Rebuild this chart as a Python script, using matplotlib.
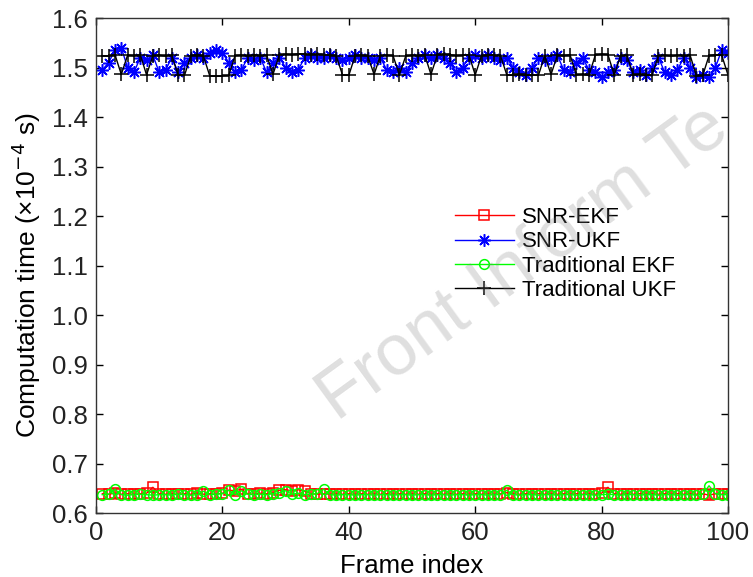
import matplotlib
matplotlib.use("Agg")
import matplotlib.pyplot as plt
import numpy as np

plt.rcParams["font.family"] = ["Liberation Sans", "DejaVu Sans"]

# per-frame computation time, units of 1e-4 s
frames = np.arange(1, 101)

snr_ekf = [
    0.639, 0.638, 0.640, 0.638, 0.639, 0.638, 0.639, 0.640, 0.652, 0.639,
    0.638, 0.639, 0.638, 0.639, 0.638, 0.640, 0.638, 0.639, 0.638, 0.640,
    0.646, 0.645, 0.648, 0.639, 0.638, 0.640, 0.639, 0.641, 0.646, 0.647,
    0.645, 0.647, 0.644, 0.639, 0.638, 0.639, 0.638, 0.639, 0.638, 0.639,
    0.638, 0.639, 0.638, 0.639, 0.638, 0.639, 0.638, 0.639, 0.638, 0.639,
    0.638, 0.639, 0.638, 0.639, 0.638, 0.639, 0.638, 0.639, 0.638, 0.639,
    0.638, 0.639, 0.638, 0.639, 0.641, 0.639, 0.638, 0.639, 0.638, 0.639,
    0.638, 0.639, 0.638, 0.639, 0.638, 0.639, 0.638, 0.639, 0.638, 0.640,
    0.652, 0.639, 0.638, 0.639, 0.638, 0.639, 0.638, 0.639, 0.638, 0.639,
    0.638, 0.639, 0.638, 0.639, 0.638, 0.639, 0.636, 0.639, 0.638, 0.639,
]

snr_ukf = [
    1.495, 1.510, 1.535, 1.540, 1.500, 1.490, 1.520, 1.515, 1.525, 1.490,
    1.495, 1.520, 1.490, 1.510, 1.520, 1.525, 1.520, 1.530, 1.535, 1.530,
    1.510, 1.490, 1.495, 1.520, 1.515, 1.520, 1.490, 1.510, 1.520, 1.500,
    1.490, 1.495, 1.520, 1.525, 1.520, 1.520, 1.525, 1.520, 1.515, 1.520,
    1.525, 1.520, 1.520, 1.515, 1.520, 1.495, 1.490, 1.500, 1.490, 1.510,
    1.520, 1.525, 1.520, 1.525, 1.520, 1.510, 1.490, 1.500, 1.520, 1.525,
    1.520, 1.525, 1.520, 1.515, 1.520, 1.500, 1.490, 1.485, 1.500, 1.520,
    1.515, 1.520, 1.525, 1.495, 1.490, 1.510, 1.520, 1.495, 1.490, 1.480,
    1.490, 1.495, 1.520, 1.515, 1.490, 1.495, 1.485, 1.500, 1.520, 1.490,
    1.485, 1.495, 1.520, 1.500, 1.480, 1.485, 1.480, 1.500, 1.535, 1.530,
]

trad_ekf = [
    0.637, 0.638, 0.648, 0.637, 0.636, 0.637, 0.638, 0.637, 0.636, 0.637,
    0.637, 0.636, 0.638, 0.637, 0.636, 0.637, 0.644, 0.637, 0.638, 0.639,
    0.646, 0.637, 0.645, 0.638, 0.637, 0.638, 0.637, 0.639, 0.641, 0.645,
    0.638, 0.640, 0.637, 0.638, 0.639, 0.648, 0.637, 0.636, 0.637, 0.637,
    0.636, 0.637, 0.637, 0.636, 0.637, 0.637, 0.636, 0.637, 0.637, 0.636,
    0.637, 0.637, 0.636, 0.637, 0.637, 0.636, 0.637, 0.637, 0.636, 0.637,
    0.637, 0.636, 0.637, 0.637, 0.646, 0.637, 0.636, 0.637, 0.637, 0.636,
    0.637, 0.637, 0.636, 0.637, 0.637, 0.636, 0.637, 0.637, 0.636, 0.637,
    0.638, 0.637, 0.636, 0.637, 0.637, 0.636, 0.637, 0.637, 0.636, 0.637,
    0.637, 0.636, 0.637, 0.637, 0.636, 0.638, 0.655, 0.639, 0.637, 0.637,
]

trad_ukf = [
    1.524, 1.523, 1.526, 1.486, 1.525, 1.524, 1.526, 1.485, 1.524, 1.525,
    1.523, 1.525, 1.484, 1.484, 1.524, 1.526, 1.523, 1.483, 1.482, 1.483,
    1.484, 1.524, 1.525, 1.523, 1.526, 1.524, 1.525, 1.486, 1.525, 1.527,
    1.526, 1.528, 1.527, 1.526, 1.527, 1.526, 1.525, 1.524, 1.485, 1.484,
    1.524, 1.525, 1.523, 1.486, 1.524, 1.525, 1.524, 1.485, 1.523, 1.525,
    1.524, 1.526, 1.486, 1.525, 1.527, 1.526, 1.524, 1.525, 1.526, 1.485,
    1.524, 1.526, 1.525, 1.524, 1.485, 1.484, 1.486, 1.484, 1.485, 1.484,
    1.524, 1.486, 1.525, 1.524, 1.526, 1.485, 1.486, 1.484, 1.525, 1.527,
    1.526, 1.485, 1.524, 1.525, 1.485, 1.486, 1.484, 1.485, 1.524, 1.525,
    1.523, 1.525, 1.524, 1.525, 1.483, 1.484, 1.524, 1.526, 1.525, 1.485,
]

x_ticks = [0, 20, 40, 60, 80, 100]
y_ticks = [0.6, 0.7, 0.8, 0.9, 1.0, 1.1, 1.2, 1.3, 1.4, 1.5, 1.6]

fig = plt.figure(figsize=(7.53, 5.77), dpi=100)
ax = fig.add_axes([0.1275, 0.1109, 0.8393, 0.8579])

asterisk = (8, 2, 0)
ax.plot(frames, snr_ekf, "-", color="red", marker="s", mfc="none", ms=7, mew=1.1, lw=1.0,
        label="SNR-EKF")
ax.plot(frames, snr_ukf, "-", color="blue", marker=asterisk, ms=9, mew=1.1, lw=1.0,
        label="SNR-UKF")
ax.plot(frames, trad_ekf, "-", color="#00ff00", marker="o", mfc="none", ms=7, mew=1.1, lw=1.0,
        label="Traditional EKF")
ax.plot(frames, trad_ukf, "-", color="black", marker="+", ms=10, mew=1.1, lw=1.0,
        label="Traditional UKF")

ax.set_xlim(0, 100)
ax.set_ylim(0.6, 1.6)
ax.set_xticks(x_ticks)
ax.set_yticks(y_ticks)
ax.set_yticklabels([f"{v:.1f}" for v in y_ticks])
ax.tick_params(direction="in", length=5, width=1, top=True, right=True,
               labelsize=18.5, pad=6, colors="black", labelcolor="#222222")
for sp in ax.spines.values():
    sp.set_linewidth(1.0)
    sp.set_color("#333333")

ax.set_xlabel("Frame index", fontsize=18.5, labelpad=6)
ax.set_ylabel("Computation time (×10$^{-4}$ s)", fontsize=19)
ax.yaxis.set_label_coords(-0.084, 0.481)

ax.legend(loc="upper left", bbox_to_anchor=(0.568, 0.618), frameon=False,
          fontsize=16, handlelength=2.65, handletextpad=0.36, labelspacing=0.15,
          borderpad=0, borderaxespad=0, numpoints=1)

# watermark across the plot
fig.text(0.4475, 0.2686, "Front Inform Te", fontsize=52, color="0.5", alpha=0.25,
         rotation=36, rotation_mode="anchor", ha="left", va="baseline")

fig.savefig("out.png", dpi=100)
